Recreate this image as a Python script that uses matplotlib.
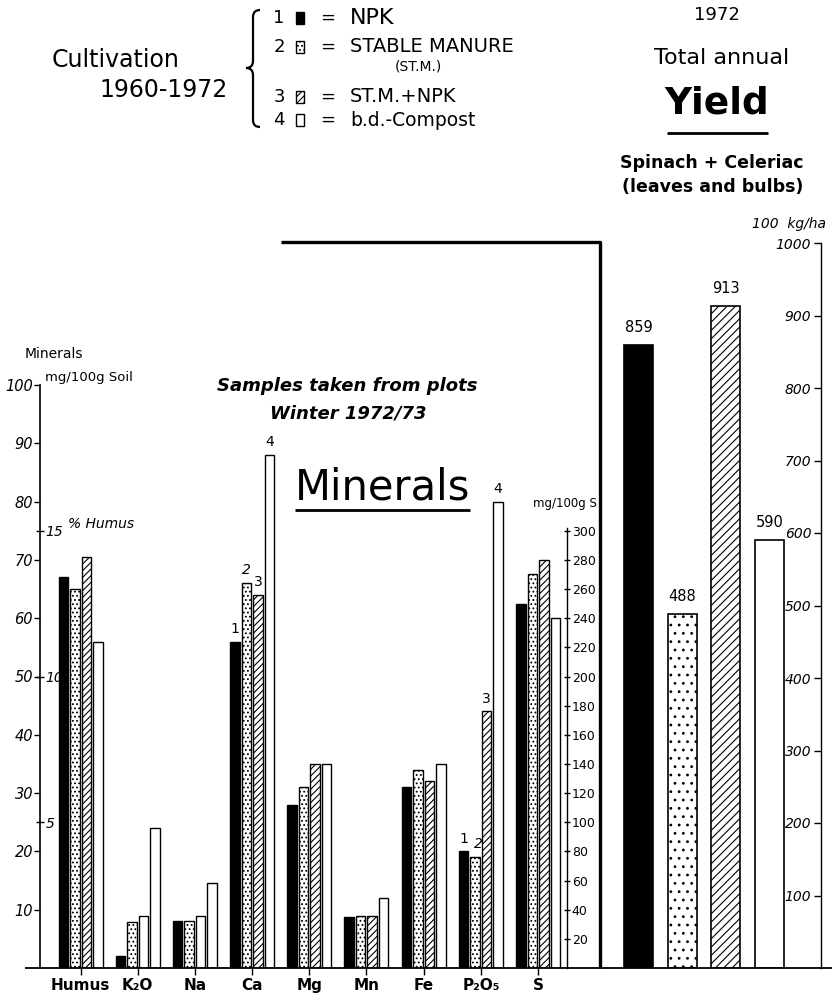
import matplotlib
matplotlib.use('Agg')
import matplotlib.pyplot as plt
from matplotlib.lines import Line2D
from matplotlib.patches import Rectangle, PathPatch
from matplotlib.path import Path
import numpy as np

# ---------------- data ----------------
minerals = ['Humus', 'K₂O', 'Na', 'Ca', 'Mg', 'Mn', 'Fe', 'P₂O₅', 'S']
treatments = ['NPK', 'STABLE MANURE', 'ST.M.+NPK', 'b.d.-Compost']
# Humus in % (own scale)
humus_pct = [13.4, 13.0, 14.1, 11.2]
# K2O, Na, Ca, Mg, Mn, Fe, P2O5 in mg/100 g soil
npk     = [2.0, 8.0, 56.0, 28.0, 8.7, 31.0, 20.0]
stm     = [7.9, 8.0, 66.0, 31.0, 8.9, 34.0, 19.0]
stm_npk = [8.9, 8.9, 64.0, 35.0, 9.0, 32.0, 44.0]
bd      = [24.0, 14.5, 88.0, 35.0, 12.0, 35.0, 80.0]
# S in mg/100 g S (own scale)
sulfur = [250, 270, 280, 240]
# total annual yield 1972, 100 kg/ha
yield_vals = [859, 488, 913, 590]

left_ticks = list(range(10, 101, 10))
humus_ticks = [5, 10, 15]
s_ticks = list(range(20, 301, 20))
yield_ticks = list(range(100, 1001, 100))

# ---------------- layout helpers ----------------
W, H, DPI = 837, 998, 100
def fx(px): return px / W
def fy(py): return 1 - py / H

plt.rcParams['hatch.linewidth'] = 0.8
plt.rcParams['font.family'] = ['DejaVu Sans']

fig = plt.figure(figsize=(W / DPI, H / DPI), dpi=DPI)
fig.patch.set_facecolor('white')

BASE = 968
# minerals axes
A1L, A1R, A1T = 40, 600, 242
ax1 = fig.add_axes([fx(A1L), fy(BASE), (A1R - A1L) / W, (BASE - A1T) / H])
kpx = 5.83
ax1.set_ylim(0, (BASE - A1T) / kpx)
g0, gs = 80.5, 57.2
ax1.set_xlim((A1L - g0) / gs, (A1R - g0) / gs)
ax1.patch.set_visible(False)

axH = ax1.twinx()
axH.set_ylim(0, ax1.get_ylim()[1] / 5)
axS = ax1.twinx()
axS.set_ylim(0, ax1.get_ylim()[1] * 4)

styles = [dict(facecolor='black', hatch=None),
          dict(facecolor='white', hatch='....'),
          dict(facecolor='white', hatch='/////'),
          dict(facecolor='white', hatch=None)]
no_hatch_groups = ['K₂O', 'Na']

xg = np.arange(len(minerals))
step, bw = 11.5 / gs, 9.5 / gs
series = [npk, stm, stm_npk, bd]
for j, vals in enumerate(series):
    off = (j - 1.5) * step
    st = styles[j]
    axH.bar(xg[0] + off, humus_pct[j], width=bw, edgecolor='black', linewidth=1.0, **st)
    bars = ax1.bar(xg[1:8] + off, vals, width=bw, edgecolor='black', linewidth=1.0, **st)
    if j == 2:
        for b, name in zip(bars, minerals[1:8]):
            if name in no_hatch_groups:
                b.set_hatch(None)
    axS.bar(xg[8] + off, sulfur[j], width=bw, edgecolor='black', linewidth=1.0, **st)

# numbers above Ca and P2O5 bars
for name, shift in [('Ca', [0, 0, 0, 0]), ('P₂O₅', [0, 0.05, 0, 0])]:
    gi = minerals.index(name)
    for j, vals in enumerate(series):
        v = vals[gi - 1]
        ax1.text(xg[gi] + (j - 1.5) * step + shift[j], v + 1.0, str(j + 1),
                 ha='center', va='bottom', fontsize=10,
                 style='italic' if j == 1 else 'normal')

# left axis
for s in ['top', 'right', 'bottom']:
    ax1.spines[s].set_visible(False)
ax1.spines['left'].set_bounds(0, 100)
ax1.spines['left'].set_linewidth(1.2)
ax1.set_yticks(left_ticks)
ax1.set_yticklabels([str(t) for t in left_ticks], style='italic', fontsize=10.5)
ax1.tick_params(axis='y', direction='out', length=4, width=1, pad=1)
ax1.set_xticks(xg)
ax1.set_xticklabels(minerals, fontsize=11, fontweight='bold')
ax1.tick_params(axis='x', direction='out', length=5, width=1, pad=2)

# humus axis (ticks on the same spine, labels to the right)
for s in ['top', 'left', 'bottom']:
    axH.spines[s].set_visible(False)
axH.spines['right'].set_position(('axes', 0))
axH.spines['right'].set_visible(False)
axH.set_yticks(humus_ticks)
axH.set_yticklabels([str(t) for t in humus_ticks], style='italic', fontsize=10)
axH.tick_params(axis='y', direction='inout', length=6, width=1, pad=1)

# S axis
for s in ['top', 'left', 'bottom']:
    axS.spines[s].set_visible(False)
axS.spines['right'].set_position(('data', (567 - g0) / gs))
axS.spines['right'].set_bounds(0, 302)
axS.spines['right'].set_linewidth(1.0)
axS.set_yticks(s_ticks)
axS.set_yticklabels([str(t) for t in s_ticks], fontsize=9)
axS.tick_params(axis='y', direction='inout', length=5, width=1, pad=1)

# yield axes
A2L, A2R, A2T = 600, 837, 200
ax2 = fig.add_axes([fx(A2L), fy(BASE), (A2R - A2L) / W, (BASE - A2T) / H])
ky = 0.725
ax2.set_ylim(0, (BASE - A2T) / ky)
y0, ys = 639.0, 43.5
ax2.set_xlim((A2L - y0) / ys, (A2R - y0) / ys)
ax2.patch.set_visible(False)
ystyles = [dict(facecolor='black', hatch=None),
           dict(facecolor='white', hatch='..'),
           dict(facecolor='white', hatch='////'),
           dict(facecolor='white', hatch=None)]
for i, v in enumerate(yield_vals):
    ax2.bar(i, v, width=29 / ys, edgecolor='black', linewidth=1.2, **ystyles[i])
    ax2.text(i, v + 14, str(v), ha='center', va='bottom', fontsize=10.5)
for s in ['top', 'right', 'bottom']:
    ax2.spines[s].set_visible(False)
ax2.spines['left'].set_position(('data', (821 - y0) / ys))
ax2.spines['left'].set_bounds(0, 1000)
ax2.spines['left'].set_linewidth(1.0)
ax2.set_yticks(yield_ticks)
ax2.set_yticklabels([str(t) for t in yield_ticks], style='italic', fontsize=10)
ax2.tick_params(axis='y', direction='out', length=5, width=1, pad=2)
ax2.set_xticks([])

# ---------------- decorations ----------------
def fline(xs, ys_, lw=1.2):
    fig.add_artist(Line2D([fx(x) for x in xs], [fy(y) for y in ys_],
                          color='black', linewidth=lw, solid_capstyle='butt'))

fline([25, 832], [BASE, BASE], 1.3)              # baseline
fline([281, 600, 600], [242, 242, BASE], 2.4)     # bracket line
fline([667, 768], [133, 133], 2.0)                # Yield underline
fline([295, 470], [510, 510], 2.0)                # Minerals underline

def ftext(x, y, s, **kw):
    fig.text(fx(x), fy(y), s, **kw)

ftext(116, 60, 'Cultivation', ha='center', va='center', fontsize=17)
ftext(164, 90, '1960-1972', ha='center', va='center', fontsize=17)

# brace
bx, bt, bb, bm, bwid = 246, 10, 127, 68, 14
pts = [(bx + bwid, bt), (bx + bwid / 2, bt), (bx + bwid / 2, bt + bwid / 2),
       (bx + bwid / 2, bm - bwid / 2), (bx + bwid / 2, bm), (bx, bm),
       (bx + bwid / 2, bm), (bx + bwid / 2, bm + bwid / 2),
       (bx + bwid / 2, bb - bwid / 2), (bx + bwid / 2, bb), (bx + bwid, bb)]
codes = [Path.MOVETO, Path.CURVE3, Path.CURVE3, Path.LINETO, Path.CURVE3, Path.CURVE3,
         Path.CURVE3, Path.CURVE3, Path.LINETO, Path.CURVE3, Path.CURVE3]
fig.add_artist(PathPatch(Path([(fx(x), fy(y)) for x, y in pts], codes),
                         transform=fig.transFigure, facecolor='none',
                         edgecolor='black', linewidth=1.6))

leg_y = [18, 47, 97, 120]
leg_fs = [16, 14, 14, 13.5]
for j in range(4):
    y = leg_y[j]
    ftext(279, y, str(j + 1), ha='center', va='center', fontsize=13)
    st = styles[j]
    fig.add_artist(Rectangle((fx(296), fy(y + 6)), 8 / W, 12 / H,
                             transform=fig.transFigure, edgecolor='black',
                             linewidth=1.0, **st))
    ftext(328, y, '=', ha='center', va='center', fontsize=13)
    ftext(350, y, treatments[j], ha='left', va='center', fontsize=leg_fs[j])
ftext(395, 67, '(ST.M.)', ha='left', va='center', fontsize=10)

ftext(717, 15, '1972', ha='center', va='center', fontsize=13)
ftext(722, 58, 'Total annual', ha='center', va='center', fontsize=16)
ftext(717, 104, 'Yield', ha='center', va='center', fontsize=27, fontweight='bold')
ftext(712, 163, 'Spinach + Celeriac', ha='center', va='center', fontsize=12.5, fontweight='bold')
ftext(713, 187, '(leaves and bulbs)', ha='center', va='center', fontsize=12.5, fontweight='bold')
ftext(789, 224, '100  kg/ha', ha='center', va='center', fontsize=10, style='italic')

ftext(25, 354, 'Minerals', ha='left', va='center', fontsize=10)
ftext(45, 378, 'mg/100g Soil', ha='left', va='center', fontsize=9.5)
ftext(347, 386, 'Samples taken from plots', ha='center', va='center',
      fontsize=13, fontweight='bold', style='italic')
ftext(348, 413, 'Winter 1972/73', ha='center', va='center',
      fontsize=13, fontweight='bold', style='italic')
ftext(383, 487, 'Minerals', ha='center', va='center', fontsize=30)
ftext(565, 503, 'mg/100g S', ha='center', va='center', fontsize=8.5)
ftext(68, 524, '% Humus', ha='left', va='center', fontsize=10, style='italic')

fig.savefig('out.png', dpi=DPI, facecolor='white')
